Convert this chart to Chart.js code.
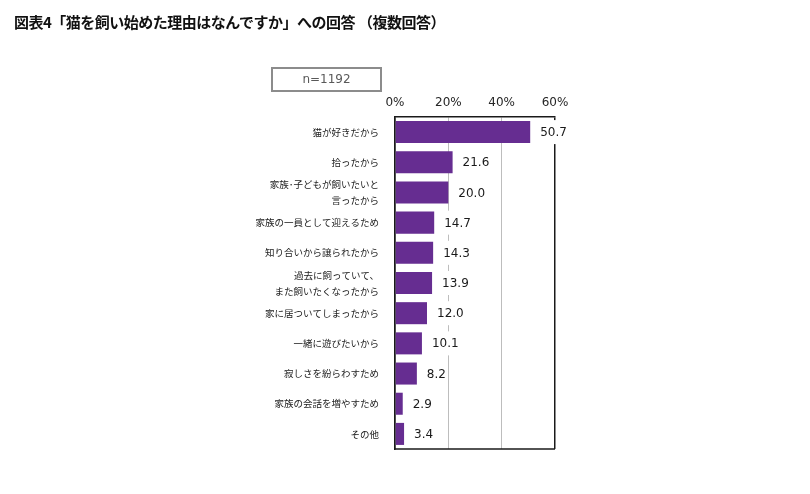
<!DOCTYPE html>
<html lang="ja">
<head>
<meta charset="utf-8">
<script src="https://cdn.jsdelivr.net/npm/chart.js@4"></script>
<style>
  html, body { margin: 0; padding: 0; background: #fff; }
  #wrap { position: relative; width: 810px; height: 494px; }
  #title { position: absolute; left: 14px; top: 11px; font: bold 15px "Noto Sans CJK JP", sans-serif; color: #111; white-space: nowrap; letter-spacing: -0.5px; }
  #nbox { position: absolute; left: 271px; top: 67px; width: 107px; height: 21px; border: 2px solid #8c8c8c; font: 12px "DejaVu Sans", sans-serif; color: #595959; text-align: center; line-height: 21px; }
  canvas { position: absolute; left: 0; top: 0; }
</style>
</head>
<body>
<div id="wrap">
  <canvas id="c" width="810" height="494"></canvas>
  <div id="title">図表4「猫を飼い始めた理由はなんですか」への回答 （複数回答）</div>
  <div id="nbox">n=1192</div>
</div>
<script>
const categories = [
  '猫が好きだから',
  '拾ったから',
  ['家族･子どもが飼いたいと', '言ったから'],
  '家族の一員として迎えるため',
  '知り合いから譲られたから',
  ['過去に飼っていて、', 'また飼いたくなったから'],
  '家に居ついてしまったから',
  '一緒に遊びたいから',
  '寂しさを紛らわすため',
  '家族の会話を増やすため',
  'その他'
];
const values = [50.7, 21.6, 20.0, 14.7, 14.3, 13.9, 12.0, 10.1, 8.2, 2.9, 3.4];
const xTickValues = [0, 20, 40, 60];
const xTickSuffix = '%';

const frameColor = '#1a1a1a';
const gridColor = '#bdbdbd';

const framePlugin = {
  id: 'frame',
  beforeDatasetsDraw(chart) {
    const { ctx, chartArea } = chart;
    ctx.save();
    ctx.strokeStyle = frameColor;
    ctx.lineWidth = 1.5;
    ctx.beginPath();
    ctx.moveTo(chartArea.left, chartArea.bottom);
    ctx.lineTo(chartArea.right, chartArea.bottom);
    ctx.stroke();
    ctx.restore();
  }
};

const valueLabelPlugin = {
  id: 'valueLabels',
  afterDatasetsDraw(chart) {
    const { ctx } = chart;
    const meta = chart.getDatasetMeta(0);
    ctx.save();
    ctx.font = '12px "DejaVu Sans", sans-serif';
    ctx.textBaseline = 'middle';
    ctx.textAlign = 'left';
    meta.data.forEach((bar, i) => {
      const txt = values[i].toFixed(1);
      const w = ctx.measureText(txt).width;
      const x = bar.x + 10;
      const y = bar.y;
      ctx.fillStyle = '#fff';
      ctx.fillRect(x - 2, y - 12, w + 4, 24);
      ctx.fillStyle = '#1a1a1a';
      ctx.fillText(txt, x, y + 1);
    });
    ctx.restore();
  }
};

new Chart(document.getElementById('c'), {
  type: 'bar',
  data: {
    labels: categories,
    datasets: [{
      data: values,
      backgroundColor: '#662d91',
      borderWidth: 0,
      barPercentage: 0.73,
      categoryPercentage: 1.0
    }]
  },
  options: {
    indexAxis: 'y',
    responsive: false,
    animation: false,
    devicePixelRatio: 1,
    layout: { padding: { left: 0, right: 255, top: 0, bottom: 45 } },
    plugins: { legend: { display: false }, tooltip: { enabled: false }, title: { display: false } },
    scales: {
      x: {
        position: 'top',
        min: 0,
        max: 60,
        afterBuildTicks(scale) { scale.ticks = xTickValues.map(v => ({ value: v })); },
        afterFit(scale) { scale.height = 117; },
        ticks: {
          padding: 7,
          color: '#262626',
          font: { family: '"DejaVu Sans", sans-serif', size: 12 },
          callback: v => v + xTickSuffix
        },
        grid: {
          drawTicks: false,
          lineWidth: ctx => (ctx.tick && (ctx.tick.value === 60 || ctx.tick.value === 0)) ? 1.5 : 1,
          color: ctx => (ctx.tick && (ctx.tick.value === 60 || ctx.tick.value === 0)) ? frameColor : gridColor
        },
        border: { display: true, color: frameColor, width: 1.5 }
      },
      y: {
        afterFit(scale) { scale.width = 395; },
        ticks: {
          autoSkip: false,
          padding: 16,
          color: '#1a1a1a',
          font: { family: '"Noto Sans CJK JP", sans-serif', size: 9.5, lineHeight: '16px' }
        },
        grid: { display: false, drawTicks: false },
        border: { display: true, color: frameColor, width: 1.5 }
      }
    }
  },
  plugins: [framePlugin, valueLabelPlugin]
});
</script>
</body>
</html>
